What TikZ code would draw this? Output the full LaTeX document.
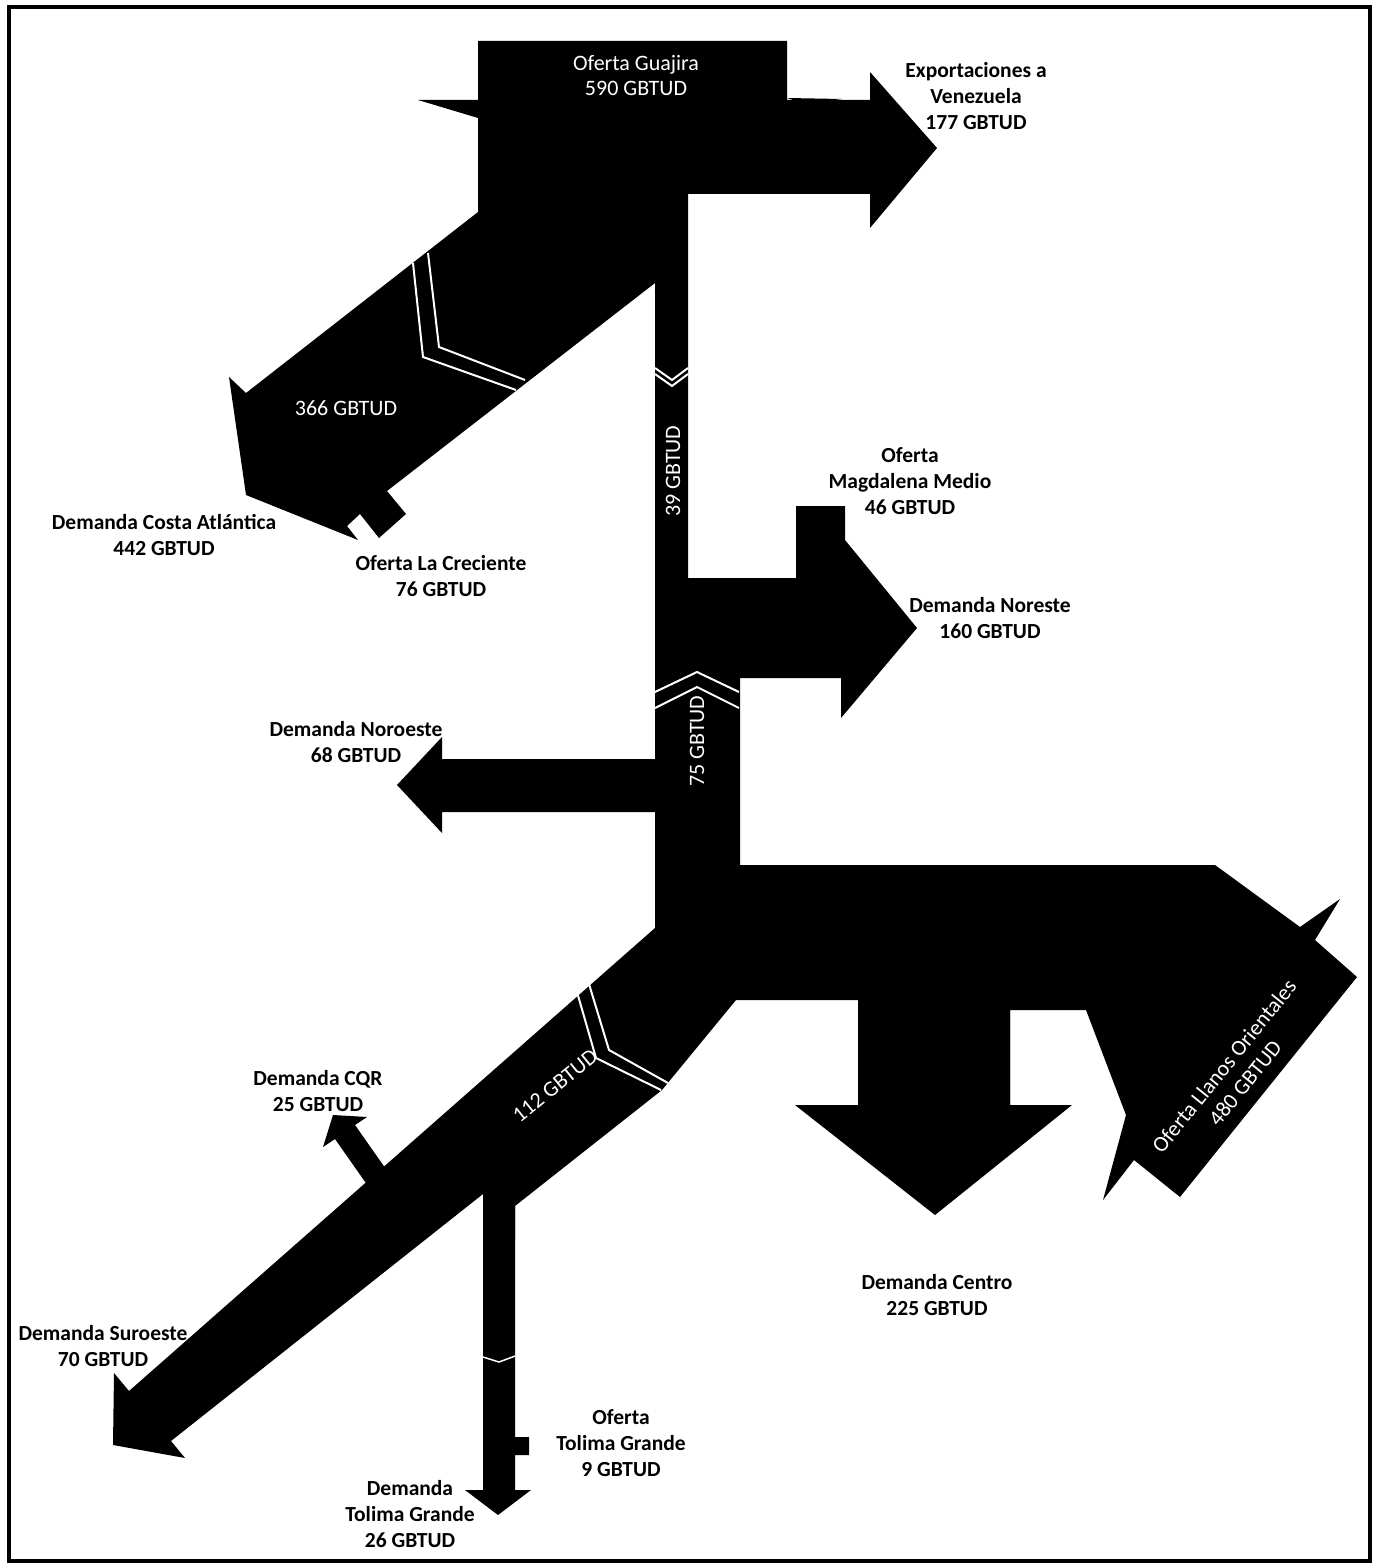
\documentclass[tikz,border=0pt]{standalone}
\usepackage{fontspec}
\setmainfont{Carlito}
\begin{document}
\begin{tikzpicture}[x=1pt,y=-1pt,
  flow/.style={fill=black,draw=none},
  chev/.style={draw=white,line width=2pt},
  lbl/.style={font=\fontsize{21.5}{26}\selectfont\bfseries,align=center,text=black,inner sep=0pt},
  wlbl/.style={font=\fontsize{22}{25}\selectfont,align=center,text=white,inner sep=0pt}]
\useasboundingbox (0,0) rectangle (1381,1565);
\fill[white] (0,0) rectangle (1381,1565);
\draw[line width=3.5pt] (9,7) rectangle (1370,1561);

% Guajira block, Venezuela arrow, 39 strip
\fill[flow] (478,41) -- (787,41) -- (787,100) -- (870,100) -- (870,72) -- (937,148)
  -- (870,228) -- (870,194) -- (688,194) -- (688,600) -- (655,600) -- (655,194) -- (478,194) -- cycle;
\fill[flow] (418,100) -- (478,100) -- (478,118) -- cycle;
\fill[flow] (787,98) -- (842,99) -- (805,104) -- cycle;
% Costa Atlantica arm with La Creciente inflow
\fill[flow] (478,190) -- (478,212) -- (246,393) -- (229,377) -- (246,495) -- (358,540) -- (347,526)
  -- (360,514) -- (379,538) -- (406,514) -- (387,491) -- (655,283) -- (655,190) -- cycle;
% Noreste with Magdalena inflow
\fill[flow] (655,578) -- (796,578) -- (796,506) -- (845,506) -- (845,540) -- (917,628) -- (841,718)
  -- (841,678) -- (740,678) -- (740,880) -- (655,880) -- cycle;
% Noroeste
\fill[flow] (655,759) -- (442,759) -- (442,737) -- (397,785) -- (442,833) -- (442,812) -- (655,812) -- cycle;
% Junction, Llanos inflow, Suroeste band
\fill[flow] (655,865) -- (1215,865) -- (1300,927) -- (1340,899) -- (1315,940) -- (1357,977)
  -- (1180,1197) -- (1134,1160) -- (1103,1200) -- (1126,1115) -- (1086,1010) -- (1010,1010)
  -- (1010,1105) -- (858,1105) -- (858,1000) -- (736,1000) -- (662,1090) -- (515,1206)
  -- (515,1240) -- (483,1240) -- (483,1194) -- (171,1441) -- (185,1458) -- (113,1445)
  -- (114,1373) -- (129,1391) -- (655,928) -- cycle;
% Centro arrow
\fill[flow] (858,1000) -- (1010,1000) -- (1010,1105) -- (1072,1105) -- (935,1215) -- (795,1105) -- (858,1105) -- cycle;
% CQR arrow
\fill[flow] (333,1115) -- (367,1117) -- (355,1125) -- (395,1182) -- (375,1196) -- (335,1139) -- (323,1147) -- cycle;
% Tolima strip with inflow
\fill[flow] (483,1200) -- (515,1200) -- (515,1437) -- (529,1437) -- (529,1455) -- (515,1455) -- (515,1490)
  -- (531,1490) -- (498,1515) -- (465,1490) -- (483,1490) -- cycle;

% chevrons
\draw[chev] (413,263) -- (423,357) -- (516,390);
\draw[chev] (428,253) -- (439,347) -- (525,380);
\draw[chev] (655,368) -- (672,380) -- (688,368);
\draw[chev] (655,374) -- (672,386) -- (688,374);
\draw[chev] (655,692) -- (697,672) -- (739,692);
\draw[chev] (655,708) -- (697,687) -- (739,708);
\draw[chev] (577,992) -- (596,1058) -- (661,1090);
\draw[chev] (589,984) -- (609,1050) -- (668,1083);
\draw[chev,line width=1.5pt] (483,1357) -- (499,1362) -- (515,1356);

% white labels
\node[wlbl] (guaj) at (636,76) {Oferta Guajira\\590 GBTUD};
\node[wlbl] (costaflow) at (346,408) {366 GBTUD};
\node[wlbl,rotate=90] (f39) at (673,471) {39 GBTUD};
\node[wlbl,rotate=90] (f75) at (697,741) {75 GBTUD};
\node[wlbl,rotate=39] (f112) at (555,1086) {112 GBTUD};
\node[wlbl,rotate=51] (llanosA) at (1224,1066) {Oferta Llanos Orientales};
\node[wlbl,rotate=51] (llanosB) at (1245,1083) {480 GBTUD};

% black labels
\node[lbl] (venez) at (976,96) {Exportaciones a\\Venezuela\\177 GBTUD};
\node[lbl] (magd) at (910,481) {Oferta\\Magdalena Medio\\46 GBTUD};
\node[lbl] (nore) at (990,618) {Demanda Noreste\\160 GBTUD};
\node[lbl] (costa) at (164,535) {Demanda Costa Atlántica\\442 GBTUD};
\node[lbl] (crec) at (441,576) {Oferta La Creciente\\76 GBTUD};
\node[lbl] (noro) at (356,742) {Demanda Noroeste\\68 GBTUD};
\node[lbl] (cqr) at (318,1091) {Demanda CQR\\25 GBTUD};
\node[lbl] (suro) at (103,1346) {Demanda Suroeste\\70 GBTUD};
\node[lbl] (centro) at (937,1295) {Demanda Centro\\225 GBTUD};
\node[lbl] (tolo) at (621,1443) {Oferta\\Tolima Grande\\9 GBTUD};
\node[lbl] (told) at (410,1514) {Demanda\\Tolima Grande\\26 GBTUD};
\end{tikzpicture}
\end{document}
